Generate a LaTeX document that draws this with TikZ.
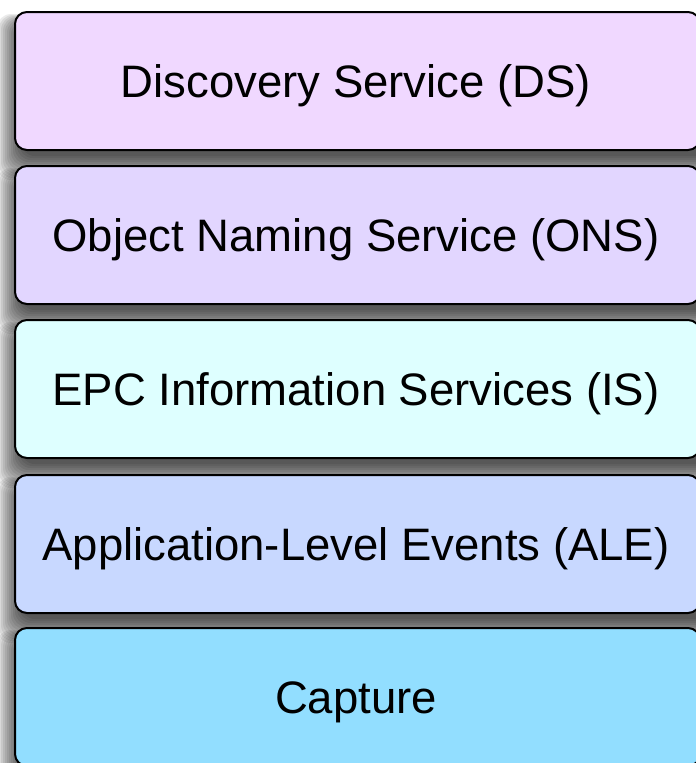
\documentclass[tikz,border=0pt]{standalone}
\usepackage{fontspec}
\setmainfont{Liberation Sans}
\begin{document}
\begin{tikzpicture}[x=1pt,y=-1pt,
  layerbox/.style={draw=black,line width=2pt,rounded corners=12pt},
  layertext/.style={font=\fontsize{45.5}{50}\selectfont,text=black,inner sep=0pt,anchor=base},
  shadowlayer/.style={fill=black,opacity=0.08,rounded corners=14pt}]
\definecolor{cA}{RGB}{240,216,255}
\definecolor{cB}{RGB}{226,214,255}
\definecolor{cC}{RGB}{222,255,255}
\definecolor{cD}{RGB}{200,216,255}
\definecolor{cE}{RGB}{146,222,255}
\useasboundingbox (0,0) rectangle (696,763);
\clip (0,0) rectangle (696,763);
\foreach \t/\b/\c/\n/\txt in {
  12/150/cA/ds/{Discovery Service (DS)},
  166/304/cB/ons/{Object Naming Service (ONS)},
  320/458/cC/is/{EPC Information Services (IS)},
  475/613/cD/ale/{Application-Level Events (ALE)},
  628/766/cE/cap/{Capture}}{
  % soft shadow
  \foreach \k in {0,1,...,12}{
    \fill[shadowlayer]
      ({21-2*\k},{\t+14-\k}) rectangle (712,{\b+6+2*\k});
  }
  \fill[\c,layerbox] (15,\t) rectangle (700,\b);
  \node[layertext] (\n) at (356,{(\t+\b)/2+16}) {\txt};
}
\end{tikzpicture}
\end{document}
